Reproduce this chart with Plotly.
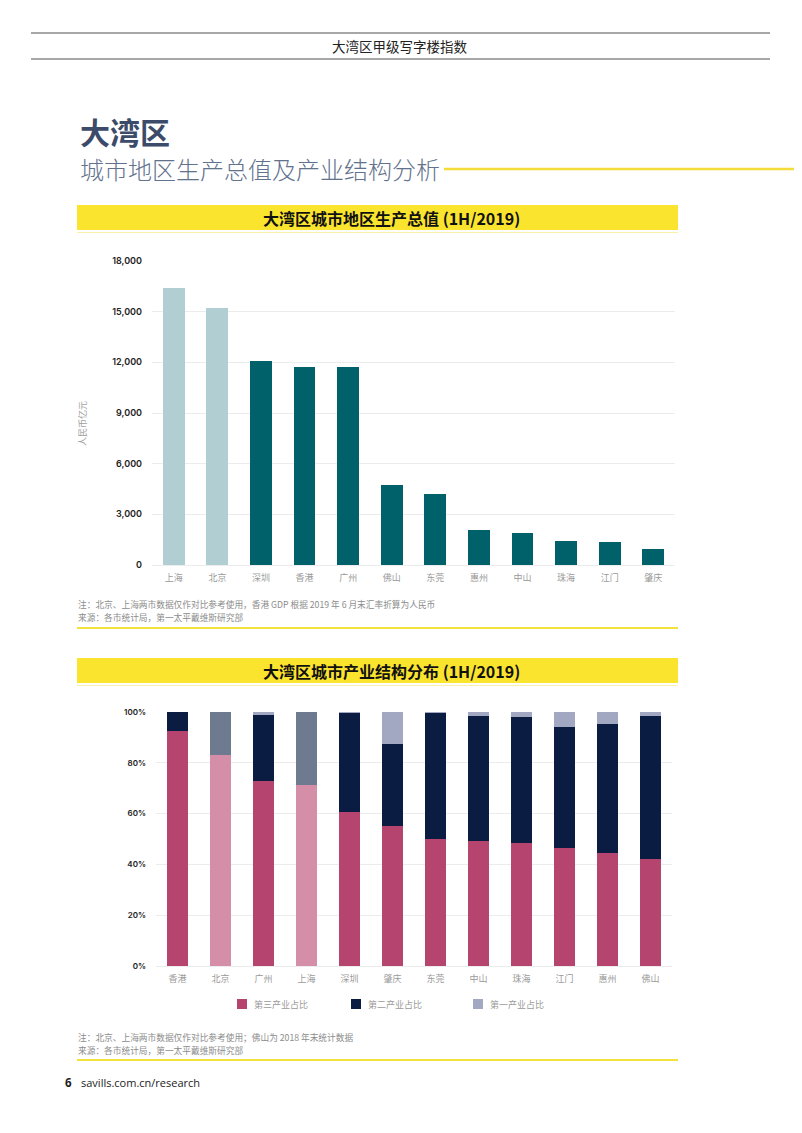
import plotly.graph_objects as go

# page is 802x1133; the html body has an 8px margin, so the figure is laid out
# to sit inside it and reference pixels are mapped with an 8px offset.
PAGE_W, PAGE_H = 802, 1133
OFF = 8
FW, FH = PAGE_W - OFF, PAGE_H - 2 * OFF

# ---------------- data ----------------
gdp_cities = ["上海", "北京", "深圳", "香港", "广州", "佛山", "东莞", "惠州", "中山", "珠海", "江门", "肇庆"]
gdp_values = [16380, 15190, 12100, 11730, 11730, 4750, 4200, 2060, 1880, 1440, 1390, 940]
gdp_reference_only = [True, True, False, False, False, False, False, False, False, False, False, False]

ind_cities = ["香港", "北京", "广州", "上海", "深圳", "肇庆", "东莞", "中山", "珠海", "江门", "惠州", "佛山"]
tertiary = [92.4, 82.9, 72.8, 71.1, 60.8, 55.0, 50.0, 49.2, 48.4, 46.5, 44.4, 42.1]
secondary = [7.6, 17.1, 26.2, 28.9, 39.1, 32.4, 49.8, 49.4, 49.6, 47.6, 51.0, 56.3]
primary = [0.0, 0.0, 1.0, 0.0, 0.1, 12.6, 0.2, 1.4, 2.0, 5.9, 4.6, 1.6]
ind_reference_only = [False, True, False, True, False, False, False, False, False, False, False, False]

series_names = ["第三产业占比", "第二产业占比", "第一产业占比"]

header_text = "大湾区甲级写字楼指数"
title_text = "大湾区"
subtitle_text = "城市地区生产总值及产业结构分析"
y_title = "人民币亿元"
chart1_title = "大湾区城市地区生产总值 (1H/2019)"
chart2_title = "大湾区城市产业结构分布 (1H/2019)"
chart1_notes = ["注：北京、上海两市数据仅作对比参考使用，香港 GDP 根据 2019 年 6 月末汇率折算为人民币",
                "来源：各市统计局，第一太平戴维斯研究部"]
chart2_notes = ["注：北京、上海两市数据仅作对比参考使用；佛山为 2018 年末统计数据",
                "来源：各市统计局，第一太平戴维斯研究部"]
page_number = "6"
footer_text = "savills.com.cn/research"

# ---------------- styles ----------------
CJK = "Noto Sans CJK SC"
NUM = "Inter"
YELLOW = "#fbe42e"
TEAL = "#00616b"
TEAL_LIGHT = "#b1cfd3"
PINK = "#b5446e"
PINK_LIGHT = "#d58ea8"
NAVY = "#0b1c43"
SLATE = "#6d7a90"
LAV = "#a2a7c2"
GRAY_TXT = "#8c8c8c"
GRID = "#ececec"
series_colors = [PINK, NAVY, LAV]


def px(x):
    return (x - OFF) / FW


def py(y):
    return 1 - (y - OFF) / FH


fig = go.Figure()

fig.add_trace(go.Bar(
    x=gdp_cities, y=gdp_values,
    marker=dict(color=[TEAL_LIGHT if r else TEAL for r in gdp_reference_only], line=dict(width=0)),
    xaxis="x", yaxis="y", showlegend=False, hoverinfo="x+y",
))

fig.add_trace(go.Bar(
    x=ind_cities, y=tertiary, name=series_names[0],
    marker=dict(color=[PINK_LIGHT if r else PINK for r in ind_reference_only], line=dict(width=0)),
    xaxis="x2", yaxis="y2", showlegend=False,
))
fig.add_trace(go.Bar(
    x=ind_cities, y=secondary, name=series_names[1],
    marker=dict(color=[SLATE if r else NAVY for r in ind_reference_only], line=dict(width=0)),
    xaxis="x2", yaxis="y2", showlegend=False,
))
fig.add_trace(go.Bar(
    x=ind_cities, y=primary, name=series_names[2],
    marker=dict(color=LAV, line=dict(width=0)),
    xaxis="x2", yaxis="y2", showlegend=False,
))

tickfont_num = dict(family=NUM, size=9, color="#222", weight=600)
tickfont_cat = dict(family=CJK, size=9, color="#9a9a9a")

fig.update_layout(
    width=FW, height=FH,
    margin=dict(l=0, r=0, t=0, b=0, autoexpand=False),
    paper_bgcolor="white", plot_bgcolor="white",
    barmode="stack", bargap=0.5,
    showlegend=False,
    xaxis=dict(domain=[px(152), px(675)], anchor="y", showgrid=False, showline=False,
               ticks="", tickfont=tickfont_cat, ticklabelstandoff=6, automargin=False),
    yaxis=dict(domain=[py(565), py(261)], anchor="x", range=[0, 18000], dtick=3000,
               tickformat=",", showgrid=True, gridcolor=GRID, gridwidth=1, zeroline=True,
               zerolinecolor=GRID, zerolinewidth=1, tickfont=tickfont_num, ticks="",
               ticklabelstandoff=9, automargin=False),
    xaxis2=dict(domain=[px(156), px(672)], anchor="y2", showgrid=False, showline=False,
                ticks="", tickfont=tickfont_cat, ticklabelstandoff=6, automargin=False),
    yaxis2=dict(domain=[py(966), py(712)], anchor="x2", range=[0, 100], dtick=20,
                ticksuffix="%", showgrid=True, gridcolor=GRID, gridwidth=1, zeroline=True,
                zerolinecolor=GRID, zerolinewidth=1,
                tickfont=dict(family=NUM, size=8, color="#222", weight=600), ticks="",
                ticklabelstandoff=9, automargin=False),
)

shapes = []
annotations = []

# page border (right edge falls inside the figure)
shapes.append(dict(type="line", xref="paper", yref="paper", x0=px(800.5), x1=px(800.5), y0=0, y1=1,
                   line=dict(color="#8a8a8a", width=1.5)))
# header lines
for yy in (33, 59):
    shapes.append(dict(type="line", xref="paper", yref="paper", x0=px(31), x1=px(770),
                       y0=py(yy), y1=py(yy), line=dict(color="#8a8a8a", width=1.5)))
annotations.append(dict(text=header_text, x=px(400), y=py(46), xref="paper", yref="paper",
                        showarrow=False, font=dict(family=CJK, size=13.5, color="#222"),
                        xanchor="center", yanchor="middle"))
# title and subtitle
annotations.append(dict(text="<b>" + title_text + "</b>", x=px(78), y=py(131), xref="paper", yref="paper",
                        showarrow=False, font=dict(family=CJK, size=30, color="#3b4b69"),
                        xanchor="left", yanchor="middle", height=34, valign="middle"))
annotations.append(dict(text=subtitle_text, x=px(78), y=py(168), xref="paper", yref="paper",
                        showarrow=False, font=dict(family=CJK, size=24, color="#62728d", weight=300),
                        xanchor="left", yanchor="middle", height=28, valign="middle"))
shapes.append(dict(type="line", xref="paper", yref="paper", x0=px(444), x1=1, y0=py(169), y1=py(169),
                   line=dict(color="#f3dc3a", width=2.5)))

# chart title bands
for (y0, y1, txt) in ((205, 230, chart1_title), (658, 683, chart2_title)):
    shapes.append(dict(type="rect", xref="paper", yref="paper", x0=px(77), x1=px(678),
                       y0=py(y1), y1=py(y0), fillcolor=YELLOW, line=dict(width=0), layer="below"))
    shapes.append(dict(type="line", xref="paper", yref="paper", x0=px(77), x1=px(678),
                       y0=py(y1 + 2.5), y1=py(y1 + 2.5), line=dict(color="#faf0a8", width=1.2)))
    annotations.append(dict(text="<b>" + txt + "</b>", x=px(391), y=py((y0 + y1) / 2 + 0.5),
                            xref="paper", yref="paper", showarrow=False,
                            font=dict(family=CJK, size=16, color="#111"),
                            xanchor="center", yanchor="middle"))

# y-axis title of chart 1
annotations.append(dict(text=y_title, x=px(82), y=py(424), xref="paper", yref="paper",
                        showarrow=False, textangle=-90,
                        font=dict(family=CJK, size=9, color="#a0a0a0"),
                        xanchor="center", yanchor="middle"))

# legend of chart 2
legend_marker_x = [242, 356, 478]
for name, col, mx in zip(series_names, series_colors, legend_marker_x):
    shapes.append(dict(type="rect", xref="paper", yref="paper", x0=px(mx - 5), x1=px(mx + 5),
                       y0=py(1009), y1=py(999), fillcolor=col, line=dict(width=0)))
    annotations.append(dict(text=name, x=px(mx + 10), y=py(1004), xref="paper", yref="paper",
                            showarrow=False, font=dict(family=CJK, size=9, color="#9a9a9a"),
                            xanchor="left", yanchor="middle"))

# notes
for (ys, notes, line_y) in (((604, 617), chart1_notes, 628), ((1037, 1050), chart2_notes, 1060)):
    for yy, t in zip(ys, notes):
        annotations.append(dict(text=t, x=px(76), y=py(yy), xref="paper", yref="paper",
                                showarrow=False, font=dict(family=CJK, size=8.7, color=GRAY_TXT),
                                xanchor="left", yanchor="middle"))
    shapes.append(dict(type="line", xref="paper", yref="paper", x0=px(77), x1=px(678),
                       y0=py(line_y), y1=py(line_y), line=dict(color="#f3e23a", width=1.8)))

# footer
annotations.append(dict(text="<b>" + page_number + "</b>", x=px(63), y=py(1082), xref="paper", yref="paper",
                        showarrow=False, font=dict(family="Open Sans", size=11.5, color="#222"),
                        xanchor="left", yanchor="middle"))
annotations.append(dict(text=footer_text, x=px(79), y=py(1082), xref="paper", yref="paper",
                        showarrow=False, font=dict(family="Open Sans", size=11, color="#222"),
                        xanchor="left", yanchor="middle"))

fig.update_layout(shapes=shapes, annotations=annotations)

fig.write_html("out.html")
